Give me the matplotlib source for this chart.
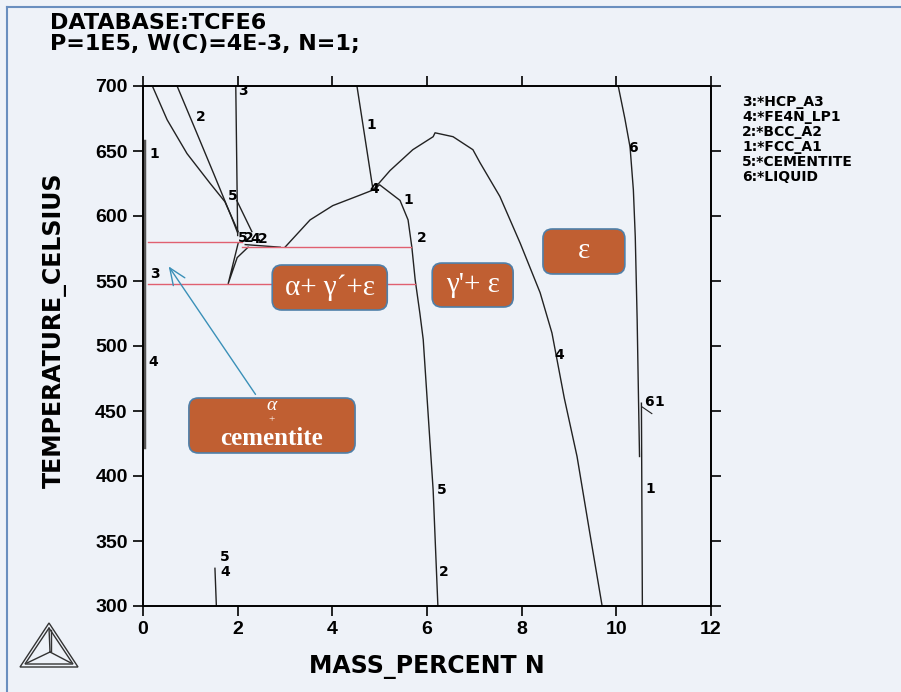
import numpy as np
import matplotlib.pyplot as plt
from matplotlib.patches import FancyBboxPatch, Polygon
from matplotlib.lines import Line2D

plt.rcParams['font.family'] = ['Liberation Sans', 'DejaVu Sans']

# phase boundary lines (mass percent N, temperature in C)
bcc_left_x = [0.21, 0.51, 0.93, 1.42, 1.73, 2.01]
bcc_left_t = [699, 674, 648, 625, 611, 588]
bcc_right_x = [0.72, 1.10, 1.50, 1.85, 2.00]
bcc_right_t = [700, 667, 632, 601, 587]
hcp_x = [1.96, 2.00]
hcp_t = [700, 585]
cem_x = [1.98, 2.30]
cem_t = [612, 588]
tri_x = [2.01, 1.80, 1.99, 2.22]
tri_t = [579, 548, 568, 576]
eut_x = [2.16, 2.90]
eut_t = [578, 576]
fe4n_low_x = [3.00, 3.53, 4.01, 4.58, 4.86]
fe4n_low_t = [576, 597, 608, 616, 620]
fcc_top_x = [4.52, 4.86]
fcc_top_t = [700, 620]
dome_x = [4.86, 5.22, 5.70, 6.13, 6.17, 6.55, 6.97, 7.12, 7.54, 7.97, 8.39, 8.64, 8.90, 9.17, 9.44, 9.70]
dome_t = [620, 635, 651, 661, 664, 661, 651, 641, 615, 579, 541, 510, 460, 415, 356, 300]
fe4n_right_x = [4.86, 5.00, 5.43, 5.60, 5.68, 5.75, 5.85, 5.92, 6.13, 6.23]
fe4n_right_t = [620, 624, 612, 597, 576, 551, 525, 505, 389, 300]
liq_x = [10.04, 10.18, 10.29, 10.36, 10.40, 10.44, 10.47, 10.49]
liq_t = [700, 675, 653, 620, 584, 520, 456, 415]
fcc_right_x = [10.53, 10.55]
fcc_right_t = [456, 300]
edge_x = [0.03, 0.03]
edge_t = [658, 422]
small_x = [1.55, 1.52]
small_t = [300, 329]

# eutectoid isotherms
red_lines = [([0.1, 2.1], [580, 580]), ([2.1, 5.66], [576, 576]), ([0.1, 5.75], [548, 548])]

# curve labels: (x, T, text)
curve_labels = [
    (2.02, 696, '3'), (1.12, 676, '2'), (4.72, 670, '1'), (0.14, 648, '1'),
    (1.80, 615, '5'), (4.78, 621, '4'), (5.50, 612, '1'),
    (2.00, 583, '5'), (2.13, 583, '2'), (2.27, 582, '4'), (2.42, 582, '2'),
    (5.78, 583, '2'), (0.14, 555, '3'), (0.12, 488, '4'),
    (10.25, 652, '6'), (8.70, 493, '4'), (10.58, 457, '6'), (10.80, 457, '1'),
    (10.62, 390, '1'), (6.20, 389, '5'), (6.25, 326, '2'),
    (1.62, 338, '5'), (1.64, 326, '4'),
]

legend_lines = ['3:*HCP_A3', '4:*FE4N_LP1', '2:*BCC_A2', '1:*FCC_A1', '5:*CEMENTITE', '6:*LIQUID']

# region boxes: (x0, x1, T0, T1, label)
regions = [
    (2.73, 5.16, 527.7, 562.3, 'α+ γ´+ε'),
    (6.11, 7.82, 530.0, 563.8, "γ'+ ε"),
    (8.45, 10.18, 555.4, 590.0, 'ε'),
    (0.97, 4.48, 417.7, 460.0, None),
]

bg = '#eef2f8'
heavy = ['DejaVu Sans']
serif = ['Liberation Serif', 'DejaVu Serif']

fig = plt.figure(figsize=(9.01, 6.92), dpi=100, facecolor=bg)
ax = fig.add_axes([143 / 901, 1 - 606 / 692, 568 / 901, 520 / 692])
ax.set_facecolor(bg)

line_kw = dict(color='#222222', lw=1.0)
for xs, ts in [(bcc_left_x, bcc_left_t), (bcc_right_x, bcc_right_t), (hcp_x, hcp_t),
               (cem_x, cem_t), (tri_x, tri_t), (eut_x, eut_t), (fe4n_low_x, fe4n_low_t),
               (fcc_top_x, fcc_top_t), (dome_x, dome_t), (fe4n_right_x, fe4n_right_t),
               (liq_x, liq_t), (fcc_right_x, fcc_right_t), (small_x, small_t)]:
    ax.plot(xs, ts, **line_kw)
ax.plot(edge_x, edge_t, color='#555555', lw=2.5)
ax.plot([10.55, 10.75], [453, 448], color='#222222', lw=0.8)

for xs, ts in red_lines:
    ax.plot(xs, ts, color='#e06070', lw=1.0)

for x, t, s in curve_labels:
    ax.text(x, t, s, fontsize=10, fontweight='bold', family=heavy, ha='left', va='center')

# orange region boxes
aspect = (1 / 1.3) / (1 / 47.33)
for x0, x1, t0, t1, label in regions:
    box = FancyBboxPatch((x0, t0), x1 - x0, t1 - t0,
                         boxstyle='round,pad=0,rounding_size=0.2',
                         mutation_aspect=aspect, facecolor='#c05f32',
                         edgecolor='#4f7fa8', lw=1.2, zorder=3)
    ax.add_patch(box)
    if label:
        ax.text((x0 + x1) / 2, (t0 + t1) / 2, label, color='white', fontsize=21,
                family=serif, ha='center', va='center', zorder=4)

cx = (0.97 + 4.48) / 2
ax.text(cx, 454.5, 'α', color='white', fontsize=14, style='italic', family=serif,
        ha='center', va='center', zorder=4)
ax.text(cx, 443.5, '+', color='white', fontsize=8, family=serif, ha='center', va='center', zorder=4)
ax.text(cx, 429, 'cementite', color='white', fontsize=18, fontweight='bold', family=serif,
        ha='center', va='center', zorder=4)

ax.annotate('', xy=(0.51, 563), xytext=(2.41, 461),
            arrowprops=dict(arrowstyle='->,head_length=1.2,head_width=0.5', color='#3a90b8', lw=1.0),
            zorder=5)

ax.set_xlim(0, 12)
ax.set_ylim(300, 700)
ax.set_xticks(np.arange(0, 13, 2))
ax.set_yticks(np.arange(300, 701, 50))
ax.tick_params(direction='out', length=7, width=1.2, top=True, right=True,
               labelsize=14, pad=4)
for lab in ax.get_xticklabels() + ax.get_yticklabels():
    lab.set_fontweight('bold')
for sp in ax.spines.values():
    sp.set_linewidth(1.4)

ax.set_xlabel('MASS_PERCENT N', fontsize=17, fontweight='bold', family=heavy, labelpad=12)
ax.set_ylabel('TEMPERATURE_CELSIUS', fontsize=17, fontweight='bold', family=heavy)
ax.yaxis.set_label_coords(-0.134, 0.531)

fig.text(50 / 901, 1 - 23 / 692, 'DATABASE:TCFE6', fontsize=16, fontweight='bold',
         family=heavy, va='center')
fig.text(50 / 901, 1 - 44 / 692, 'P=1E5, W(C)=4E-3, N=1;', fontsize=16, fontweight='bold',
         family=heavy, va='center')

for i, s in enumerate(legend_lines):
    fig.text(742 / 901, 1 - (102 + 15 * i) / 692, s, fontsize=10, fontweight='bold',
             family=heavy, va='center')

# Thermo-Calc logo and frame
W, H = 901, 692
def fp(px, py):
    return (px / W, 1 - py / H)

outer = [fp(20, 667), fp(49, 623), fp(78, 667)]
inner = [fp(25, 664), fp(49, 628), fp(73, 664)]
for tri in (outer, inner):
    fig.add_artist(Polygon(tri, closed=True, fill=False, edgecolor='#333333', lw=1.0))
center = fp(50, 652)
for v in [fp(49, 628), fp(27, 663), fp(71, 663)]:
    fig.add_artist(Line2D([center[0], v[0]], [center[1], v[1]], color='#333333', lw=1.0))
fig.add_artist(Line2D([51 / W, 51 / W], [1 - 630 / H, 1 - 651 / H], color='#333333', lw=1.0))

fig.add_artist(Line2D([7 / W, 7 / W], [0, 1 - 7 / H], color='#6a8fbf', lw=1.5))
fig.add_artist(Line2D([7 / W, 1], [1 - 7 / H, 1 - 7 / H], color='#6a8fbf', lw=1.5))

fig.savefig('out.png', dpi=100, facecolor=bg)
